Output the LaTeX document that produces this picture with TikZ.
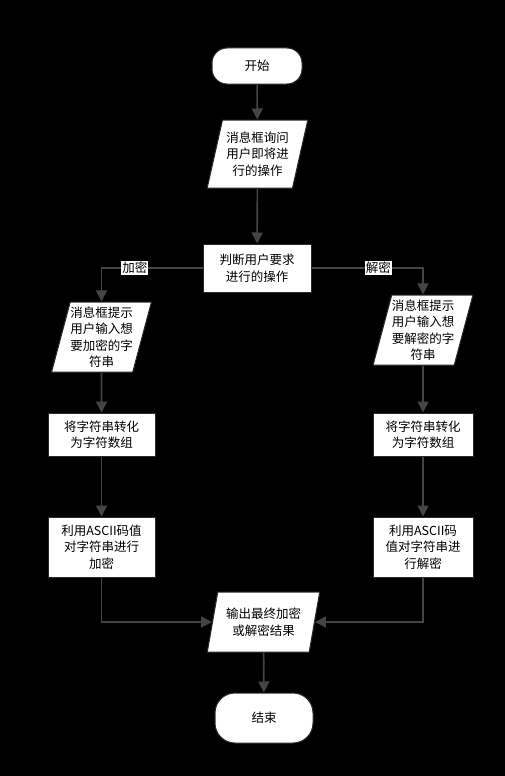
\documentclass[tikz,border=0pt]{standalone}
\usepackage{fontspec}
\setmainfont{Noto Sans CJK SC}
\usetikzlibrary{shapes.geometric,arrows.meta}
\definecolor{linegray}{HTML}{444444}
\definecolor{edgegray}{HTML}{2A2A2A}
\begin{document}
\begin{tikzpicture}[
  x=1pt, y=-1pt,
  every node/.style={draw=edgegray, line width=1pt, fill=white, align=center,
    inner sep=0pt, font=\fontsize{12.5}{16.5}\selectfont},
  term/.style={rounded corners=15pt},
  proc/.style={rectangle},
  io/.style={trapezium, trapezium left angle=73, trapezium right angle=107,
    trapezium stretches=true},
  flow/.style={draw=linegray, line width=1.6pt, -{Triangle[length=11pt,width=11pt]}},
  tag/.style={draw=none, fill=white, inner sep=1pt, font=\fontsize{12.5}{14}\selectfont}
]
\fill[black] (0,0) rectangle (505,776);
\useasboundingbox (0,0) rectangle (505,776);

\node[term, minimum width=90pt, minimum height=36pt] (start) at (257,66) {开始};
\node[io, minimum width=101pt, minimum height=68pt] (ask) at (257.5,154) {消息框询问\\用户即将进\\行的操作};
\node[proc, minimum width=108pt, minimum height=48pt] (judge) at (257,268) {判断用户要求\\进行的操作};

\node[io, minimum width=91pt, minimum height=70pt] (encin) at (101.5,337) {消息框提示\\用户输入想\\要加密的字\\符串};
\node[proc, minimum width=107pt, minimum height=43pt] (encarr) at (101.5,434.5) {将字符串转化\\为字符数组};
\node[proc, minimum width=107pt, minimum height=60pt] (encdo) at (101.5,547) {利用ASCII码值\\对字符串进行\\加密};

\node[io, minimum width=97pt, minimum height=70pt] (decin) at (423,330) {消息框提示\\用户输入想\\要解密的字\\符串};
\node[proc, minimum width=100pt, minimum height=43pt] (decarr) at (423,434.5) {将字符串转化\\为字符数组};
\node[proc, minimum width=100pt, minimum height=60pt] (decdo) at (423,547) {利用ASCII码\\值对字符串进\\行解密};

\node[io, minimum width=113pt, minimum height=60pt] (out) at (263.5,622) {输出最终加密\\或解密结果};
\node[term, rounded corners=20pt, minimum width=98pt, minimum height=50pt] (end) at (264,718) {结束};

\draw[flow] (start) -- (ask);
\draw[flow] (ask) -- (judge);
\draw[flow] (judge.west) -| (encin.north) node[tag, pos=0.335] {加密};
\draw[flow] (judge.east) -| (decin.north) node[tag, pos=0.3] {解密};
\draw[flow] (encin) -- (encarr);
\draw[flow] (encarr) -- (encdo);
\draw[flow] (decin) -- (decarr);
\draw[flow] (decarr) -- (decdo);
\draw[flow] (encdo.south) |- (out.west);
\draw[flow] (decdo.south) |- (out.east);
\draw[flow] (out) -- (end);
\end{tikzpicture}
\end{document}
